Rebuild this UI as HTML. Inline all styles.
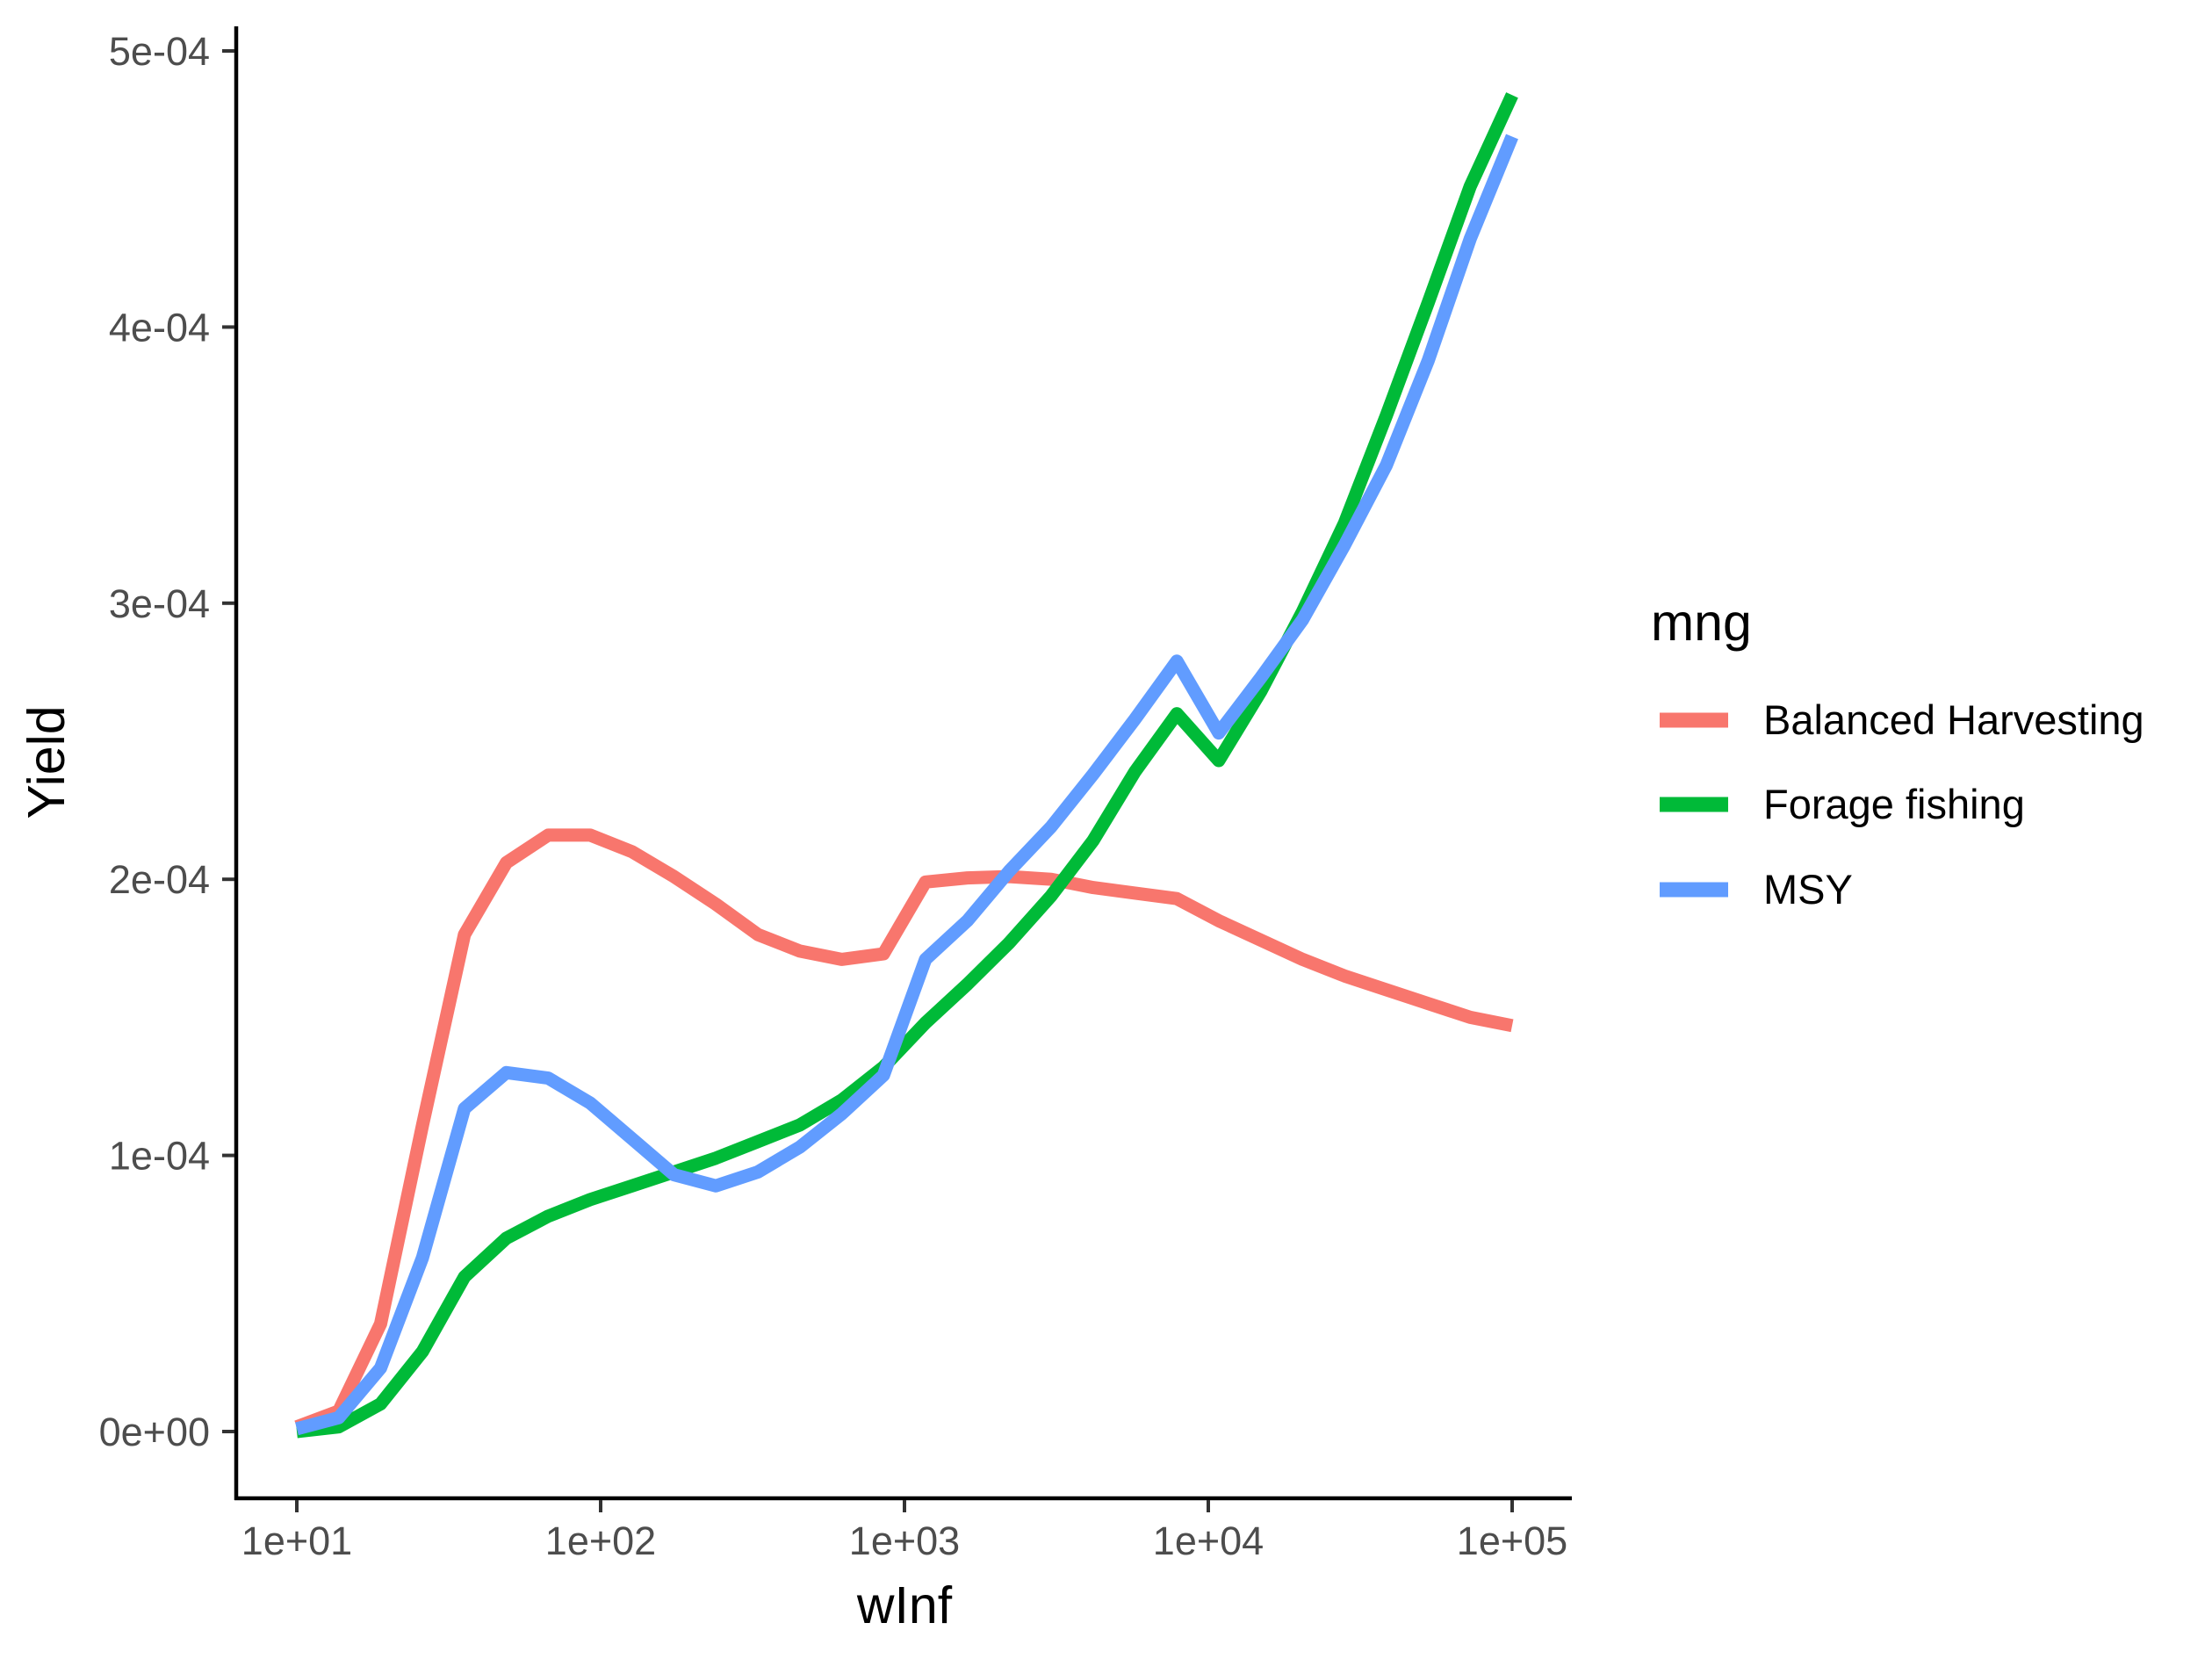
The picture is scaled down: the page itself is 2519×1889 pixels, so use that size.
<!DOCTYPE html>
<html><head><meta charset="utf-8">
<style>
html,body{margin:0;padding:0;background:#fff;}
svg{display:block;}
text{font-family:"Liberation Sans",Arial,sans-serif;}
</style></head>
<body>
<svg id="chart" width="2519" height="1889" viewBox="0 0 2519 1889">
  <rect x="0" y="0" width="2519" height="1889" fill="#fff"/>
  <g id="grid-layer"></g>
  <g id="series-layer"></g>
  <line x1="269" y1="30" x2="269" y2="1708" stroke="#000" stroke-width="4.5"/>
  <line x1="267" y1="1706" x2="1790" y2="1706" stroke="#000" stroke-width="4.5"/>
  <g id="axis-layer"></g>
  <text x="1030" y="1848" font-size="59" text-anchor="middle" fill="#000">wInf</text>
  <text x="0" y="0" font-size="59" text-anchor="middle" fill="#000" transform="translate(73,868) rotate(-90)">Yield</text>
  <g>
    <text x="1880" y="729" font-size="59" fill="#000">mng</text>
    <g>
      <line x1="1890" y1="820" x2="1968" y2="820" stroke="#F8766D" stroke-width="17"/>
      <text x="2008" y="836" font-size="47" fill="#000">Balanced Harvesting</text>
    </g>
    <g>
      <line x1="1890" y1="916" x2="1968" y2="916" stroke="#00BA38" stroke-width="17"/>
      <text x="2008" y="932" font-size="47" fill="#000">Forage fishing</text>
    </g>
    <g>
      <line x1="1890" y1="1013" x2="1968" y2="1013" stroke="#619CFF" stroke-width="17"/>
      <text x="2008" y="1029" font-size="47" fill="#000">MSY</text>
    </g>
  </g>
</svg>
<script>
// Data (yield in units of 1e-4), 30 log-spaced wInf points from 1e1 to 1e5
const logWStart = 1;
const logWEnd = 5;
const nPoints = 30;
const balancedHarvesting = [0.017,0.074,0.39,1.11,1.80,2.06,2.16,2.16,2.10,2.01,1.91,1.80,1.74,1.71,1.73,1.99,2.005,2.01,2.0,1.97,1.95,1.93,1.85,1.78,1.71,1.65,1.60,1.55,1.50,1.47];
const forageFishing = [0.0,0.017,0.10,0.29,0.56,0.70,0.78,0.84,0.89,0.94,0.99,1.05,1.11,1.20,1.32,1.48,1.62,1.77,1.94,2.14,2.39,2.60,2.43,2.68,2.97,3.29,3.68,4.09,4.51,4.84];
const msy = [0.01,0.05,0.23,0.63,1.17,1.30,1.28,1.19,1.06,0.93,0.89,0.94,1.03,1.15,1.29,1.71,1.85,2.03,2.19,2.38,2.58,2.79,2.53,2.73,2.94,3.21,3.50,3.88,4.32,4.69];
const xTickExps = [1,2,3,4,5];
const xTickLabels = ["1e+01","1e+02","1e+03","1e+04","1e+05"];
const yTickValues = [0,1,2,3,4,5];
const yTickLabels = ["0e+00","1e-04","2e-04","3e-04","4e-04","5e-04"];

const NS = "http://www.w3.org/2000/svg";
function xScale(logw){ return 338 + (logw - 1) * (1722 - 338) / 4; }
function yScale(v){ return 1630 - v * (1630 - 58) / 5; }

const axisLayer = document.getElementById('axis-layer');
xTickExps.forEach((e,i)=>{
  const x = xScale(e);
  const t = document.createElementNS(NS,'line');
  t.setAttribute('x1',x);t.setAttribute('x2',x);t.setAttribute('y1',1708);t.setAttribute('y2',1722);
  t.setAttribute('stroke','#333');t.setAttribute('stroke-width','4');
  
  
  axisLayer.appendChild(t);
  const l = document.createElementNS(NS,'text');
  l.setAttribute('x',x);l.setAttribute('y',1770);l.setAttribute('font-size','45');
  l.setAttribute('text-anchor','middle');l.setAttribute('fill','#4d4d4d');
  l.textContent = xTickLabels[i];
  
  
  axisLayer.appendChild(l);
});
yTickValues.forEach((v,i)=>{
  const y = yScale(v);
  const t = document.createElementNS(NS,'line');
  t.setAttribute('x1',253);t.setAttribute('x2',267);t.setAttribute('y1',y);t.setAttribute('y2',y);
  t.setAttribute('stroke','#333');t.setAttribute('stroke-width','4');
  
  
  axisLayer.appendChild(t);
  const l = document.createElementNS(NS,'text');
  l.setAttribute('x',239);l.setAttribute('y',y+16);l.setAttribute('font-size','45');
  l.setAttribute('text-anchor','end');l.setAttribute('fill','#4d4d4d');
  l.textContent = yTickLabels[i];
  
  
  axisLayer.appendChild(l);
});

const seriesLayer = document.getElementById('series-layer');
function drawSeries(values, color, name){
  const pts = values.map((v,i)=>{
    const lw = logWStart + i * (logWEnd - logWStart) / (nPoints - 1);
    return xScale(lw).toFixed(1) + ',' + yScale(v).toFixed(1);
  }).join(' ');
  const p = document.createElementNS(NS,'polyline');
  p.setAttribute('points',pts);
  p.setAttribute('fill','none');p.setAttribute('stroke',color);
  p.setAttribute('stroke-width','15');p.setAttribute('stroke-linejoin','round');
  
  
  seriesLayer.appendChild(p);
}
drawSeries(balancedHarvesting,'#F8766D','line-balanced-harvesting');
drawSeries(forageFishing,'#00BA38','line-forage-fishing');
drawSeries(msy,'#619CFF','line-msy');
</script>
</body></html>
